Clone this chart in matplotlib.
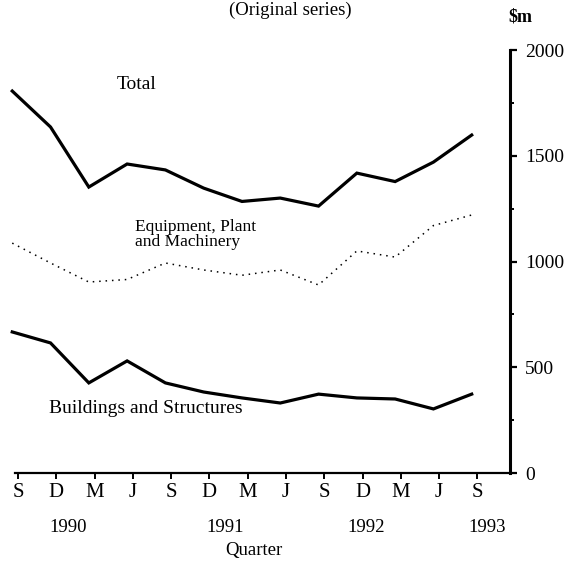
import numpy as np
import matplotlib
matplotlib.use("Agg")
import matplotlib.pyplot as plt

plt.rcParams['font.family'] = ['Liberation Serif', 'DejaVu Serif']

# Квартальные данные, $m (сентябрь 1990 - сентябрь 1993)
quarters = ['S', 'D', 'M', 'J', 'S', 'D', 'M', 'J', 'S', 'D', 'M', 'J', 'S']
total = [1806, 1636, 1352, 1461, 1433, 1347, 1284, 1300, 1262, 1418, 1378, 1470, 1598]
equipment = [1087, 993, 903, 915, 993, 960, 935, 960, 889, 1050, 1021, 1170, 1220]
buildings = [667, 615, 426, 530, 426, 383, 355, 331, 373, 355, 350, 303, 373]
years = ['1990', '1991', '1992', '1993']
year_pos = [1.45, 5.55, 9.25, 12.41]
y_ticks = [0, 500, 1000, 1500, 2000]

x = np.arange(len(quarters))

fig = plt.figure(figsize=(5.81, 5.69), dpi=100)
ax = fig.add_axes([0.0013, 0.1687, 0.8765, 0.7434])

ax.plot(x, total, color='black', lw=2.3, solid_joinstyle='miter', clip_on=False)
ax.plot(x, buildings, color='black', lw=2.3, solid_joinstyle='miter', clip_on=False)
ax.plot(x, equipment, color='black', lw=1.1, linestyle=(0, (1, 3.2)), clip_on=False)

ax.set_xlim(-0.3, 13)
ax.set_ylim(0, 2000)

# оси
ax.spines['left'].set_visible(False)
ax.spines['top'].set_visible(False)
ax.spines['right'].set_linewidth(2.2)
ax.spines['bottom'].set_linewidth(1.6)
ax.spines['bottom'].set_bounds(0.07, 13)

ax.yaxis.tick_right()
ax.set_yticks(y_ticks)
ax.set_yticks(np.arange(250, 2000, 500), minor=True)
ax.tick_params(axis='y', which='major', direction='out', length=5, width=1.6,
               labelsize=14, pad=6)
ax.tick_params(axis='y', which='minor', direction='out', length=3, width=1.4)

ax.set_xticks(x + 0.15)
ax.set_xticklabels(quarters)
ax.tick_params(axis='x', direction='out', length=4, width=1.4, labelsize=15, pad=3)

trans = ax.get_xaxis_transform()
for yr, xp in zip(years, year_pos):
    ax.text(xp, -0.128, yr, transform=trans, ha='center', va='center', fontsize=13.5)
ax.text(6.32, -0.184, 'Quarter', transform=trans, ha='center', va='center', fontsize=13.5)

# подписи серий
ax.text(3.25, 1835, 'Total', ha='center', va='center', fontsize=14)
ax.text(3.2, 1163, 'Equipment, Plant', ha='left', va='center', fontsize=12.5)
ax.text(3.2, 1092, 'and Machinery', ha='left', va='center', fontsize=12.5)
ax.text(3.49, 307, 'Buildings and Structures', ha='center', va='center', fontsize=14)

fig.text(0.5, 1 - 10 / 569, '(Original series)', ha='center', va='center', fontsize=13.5)
fig.text(520 / 581, 1 - 17 / 569, r'\$m', ha='center', va='center', fontsize=13,
         fontweight='bold')

fig.savefig('out.png', dpi=100)
